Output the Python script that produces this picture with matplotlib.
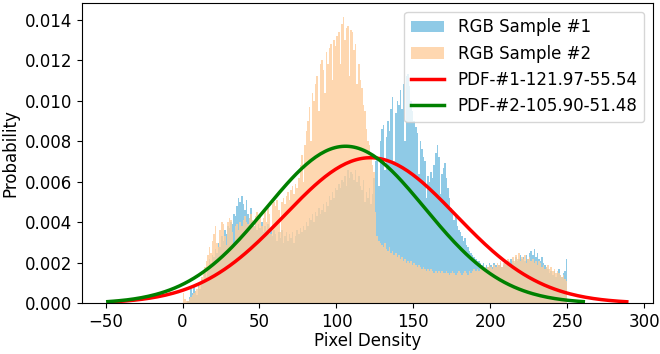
import numpy as np
import matplotlib
matplotlib.use('Agg')
import matplotlib.pyplot as plt

# histogram bins: one per pixel value 0..249
bin_edges = np.arange(0, 251)

# probabilities per bin, in units of 1e-4
sample1 = [
    0, 0, 0, 1, 3, 7, 5, 8, 6, 4,
    9, 7, 12, 10, 15, 13, 18, 22, 20, 24,
    23, 27, 25, 30, 28, 33, 31, 36, 34, 38,
    37, 40, 39, 44, 43, 48, 52, 50, 53, 49,
    46, 51, 44, 42, 47, 40, 38, 41, 36, 39,
    37, 40, 35, 38, 36, 39, 34, 37, 33, 36,
    34, 31, 35, 32, 36, 30, 33, 35, 31, 34,
    32, 35, 30, 33, 36, 34, 37, 35, 38, 36,
    40, 38, 42, 41, 44, 40, 45, 43, 47, 44,
    46, 49, 45, 50, 48, 53, 51, 55, 52, 57,
    56, 59, 57, 61, 60, 63, 58, 66, 62, 65,
    64, 61, 66, 60, 63, 58, 56, 61, 50, 55,
    52, 57, 49, 54, 62, 70, 72, 58, 80, 86,
    88, 66, 82, 90, 85, 96, 102, 70, 94, 100,
    98, 105, 96, 108, 80, 112, 113, 107, 100, 95,
    90, 87, 84, 64, 80, 76, 72, 70, 52, 63,
    60, 65, 62, 68, 74, 78, 72, 54, 64, 67,
    69, 62, 57, 52, 47, 44, 41, 43, 38, 36,
    35, 33, 31, 32, 29, 28, 26, 25, 24, 23,
    22, 21, 21, 20, 19, 20, 18, 19, 18, 20,
    19, 18, 20, 19, 18, 19, 20, 18, 19, 20,
    19, 21, 20, 22, 21, 20, 23, 21, 22, 24,
    22, 23, 21, 24, 22, 25, 26, 24, 27, 23,
    25, 22, 21, 23, 20, 19, 18, 17, 15, 16,
    14, 16, 13, 15, 17, 14, 13, 15, 16, 22,
]
sample2 = [
    5, 2, 1, 1, 2, 3, 4, 5, 6, 7,
    8, 10, 13, 15, 18, 21, 24, 28, 25, 31,
    34, 38, 30, 28, 36, 40, 39, 33, 29, 40,
    42, 41, 35, 30, 38, 39, 36, 40, 38, 41,
    43, 40, 39, 42, 44, 41, 38, 43, 45, 41,
    44, 38, 42, 46, 40, 47, 44, 34, 49, 50,
    48, 51, 46, 35, 50, 52, 49, 53, 55, 51,
    56, 58, 54, 59, 57, 62, 68, 73, 60, 78,
    85, 90, 97, 80, 104, 100, 108, 112, 95, 118,
    120, 115, 104, 124, 118, 126, 128, 110, 130, 127,
    132, 134, 118, 138, 141, 130, 136, 137, 112, 135,
    134, 125, 128, 108, 118, 110, 106, 98, 95, 86,
    80, 78, 72, 68, 65, 45, 33, 31, 30, 29,
    28, 30, 27, 26, 28, 25, 26, 24, 25, 23,
    24, 22, 23, 21, 22, 20, 21, 20, 21, 19,
    20, 19, 18, 19, 18, 17, 18, 17, 16, 17,
    16, 17, 16, 15, 16, 15, 16, 15, 16, 15,
    15, 16, 15, 14, 15, 16, 15, 14, 15, 16,
    15, 14, 15, 16, 15, 14, 16, 15, 16, 17,
    16, 17, 16, 18, 17, 16, 18, 17, 18, 19,
    18, 17, 19, 18, 20, 19, 21, 18, 20, 21,
    20, 22, 21, 19, 23, 21, 24, 22, 25, 21,
    23, 22, 24, 20, 22, 23, 21, 22, 20, 21,
    19, 21, 20, 18, 19, 17, 18, 19, 17, 18,
    16, 17, 15, 16, 15, 14, 13, 14, 12, 11,
]

# fitted normal parameters (mean, std)
mu1, sd1 = 121.97, 55.54
mu2, sd2 = 105.90, 51.48


def normal_pdf(x, mu, sd):
    return np.exp(-0.5 * ((x - mu) / sd) ** 2) / (sd * np.sqrt(2 * np.pi))


fig = plt.figure(figsize=(6.6, 3.54), dpi=100)
ax = fig.add_axes([0.124, 0.143, 0.865, 0.848])

centers = bin_edges[:-1] + 0.5
ax.hist(centers, bins=bin_edges, weights=np.array(sample1) * 1e-4,
        color='#8fcae6', label='RGB Sample #1')
ax.hist(centers, bins=bin_edges, weights=np.array(sample2) * 1e-4,
        color='#fece9d', alpha=0.8, label='RGB Sample #2')

# pdf curves over mean +/- 3 std
x1 = np.linspace(mu1 - 3 * sd1, mu1 + 3 * sd1, 200)
x2 = np.linspace(mu2 - 3 * sd2, mu2 + 3 * sd2, 200)
ax.plot(x1, normal_pdf(x1, mu1, sd1), color='red', lw=2.5,
        label=f'PDF-#1-{mu1:.2f}-{sd1:.2f}')
ax.plot(x2, normal_pdf(x2, mu2, sd2), color='green', lw=2.5,
        label=f'PDF-#2-{mu2:.2f}-{sd2:.2f}')

ax.set_xlabel('Pixel Density', fontsize=12, labelpad=1)
ax.set_ylabel('Probability', fontsize=12)
ax.tick_params(labelsize=12)
ax.set_xticks(np.arange(-50, 301, 50))
ax.set_yticks(np.arange(0, 0.0141, 0.002))
ax.legend(loc='upper right', fontsize=12)

fig.savefig('out.png', dpi=100)
